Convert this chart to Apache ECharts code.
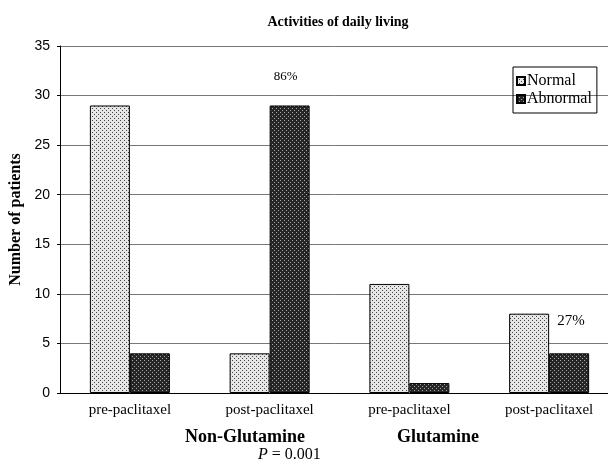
<!DOCTYPE html>
<html>
<head>
<meta charset="utf-8">
<script src="https://cdn.jsdelivr.net/npm/echarts@6/dist/echarts.min.js"></script>
<style>
  html, body { margin: 0; padding: 0; background: #fff; }
  #chart { width: 608px; height: 462px; }
</style>
</head>
<body>
<div id="chart"></div>
<script>
// data
const categories = ['pre-paclitaxel', 'post-paclitaxel', 'pre-paclitaxel', 'post-paclitaxel'];
const normalValues = [29, 4, 11, 8];
const abnormalValues = [4, 29, 1, 4];
const groupLabels = ['Non-Glutamine', 'Glutamine'];
const yTicks = [0, 5, 10, 15, 20, 25, 30, 35];

// stipple pattern for the bar fills
function makePattern(bg, dot) {
  const c = document.createElement('canvas');
  c.width = 4; c.height = 4;
  const ctx = c.getContext('2d');
  ctx.fillStyle = bg;
  ctx.fillRect(0, 0, 4, 4);
  ctx.fillStyle = dot;
  ctx.fillRect(0, 0, 1, 1);
  ctx.fillRect(2, 2, 1, 1);
  return c;
}
const lightFill = { image: makePattern('#e6e6e6', '#444'), repeat: 'repeat' };
const darkFill = { image: makePattern('#262626', '#aaa'), repeat: 'repeat' };

const serif = '"Liberation Serif", "Times New Roman", serif';

const chart = echarts.init(document.getElementById('chart'));

const normalData = normalValues.map((v, i) => {
  const d = { value: v };
  if (i === 3) {
    d.label = { show: true, formatter: '27%', position: [48, 0], fontFamily: serif, fontSize: 15, color: '#000' };
  }
  return d;
});
const abnormalData = abnormalValues.map((v, i) => {
  const d = { value: v };
  if (i === 1) {
    d.label = { show: true, formatter: '86%', position: 'top', distance: 22, offset: [-4, 0], fontFamily: serif, fontSize: 13, color: '#000' };
  }
  return d;
});

chart.setOption({
  backgroundColor: '#fff',
  animation: false,
  title: {
    text: 'Activities of daily living',
    left: 333,
    textAlign: 'center',
    top: 10,
    textStyle: { fontFamily: serif, fontWeight: 'bold', fontSize: 14, color: '#000' }
  },
  legend: {
    orient: 'vertical',
    left: 513,
    top: 67,
    itemWidth: 8,
    itemHeight: 8,
    itemGap: 2,
    padding: [6, 5, 6, 3],
    borderColor: '#000',
    borderWidth: 1,
    icon: 'rect',
    textStyle: { fontFamily: serif, fontSize: 16, color: '#000', padding: [0, 0, 0, -3] },
    data: ['Normal', 'Abnormal']
  },
  grid: { left: 60, right: -11, top: 46, bottom: 69, outerBoundsMode: 'none', containLabel: false },
  xAxis: {
    type: 'category',
    data: categories,
    axisLine: { lineStyle: { color: '#000', width: 1 } },
    axisTick: { show: false },
    axisLabel: { fontFamily: serif, fontSize: 15, color: '#000', margin: 10 }
  },
  yAxis: {
    type: 'value',
    min: yTicks[0],
    max: yTicks[yTicks.length - 1],
    interval: 5,
    name: 'Number of patients',
    nameLocation: 'middle',
    nameRotate: 90,
    nameGap: 34,
    nameTextStyle: { fontFamily: serif, fontWeight: 'bold', fontSize: 16, color: '#000' },
    axisLine: { show: true, lineStyle: { color: '#000', width: 1 } },
    axisTick: { show: true, length: 3, lineStyle: { color: '#000' } },
    axisLabel: { fontFamily: '"Liberation Sans", Arial, sans-serif', fontSize: 14, color: '#000', margin: 10 },
    splitLine: { lineStyle: { color: '#777', width: 1 } }
  },
  series: [
    {
      name: 'Normal',
      type: 'bar',
      data: normalData,
      barWidth: 40,
      barGap: '0%',
      itemStyle: { color: lightFill, borderColor: '#000', borderWidth: 1 }
    },
    {
      name: 'Abnormal',
      type: 'bar',
      data: abnormalData,
      barWidth: 40,
      itemStyle: { color: darkFill, borderColor: '#000', borderWidth: 1 }
    }
  ],
  graphic: [
    { type: 'text', left: 185, top: 428, style: { text: groupLabels[0], font: 'bold 18px ' + serif, fill: '#000' } },
    { type: 'text', left: 397, top: 428, style: { text: groupLabels[1], font: 'bold 18px ' + serif, fill: '#000' } },
    {
      type: 'text', left: 258, top: 447,
      style: {
        text: '{i|P} = 0.001',
        font: '16px ' + serif,
        fill: '#000',
        rich: { i: { fontStyle: 'italic', fontFamily: serif, fontSize: 16 } }
      }
    }
  ]
});
</script>
</body>
</html>
